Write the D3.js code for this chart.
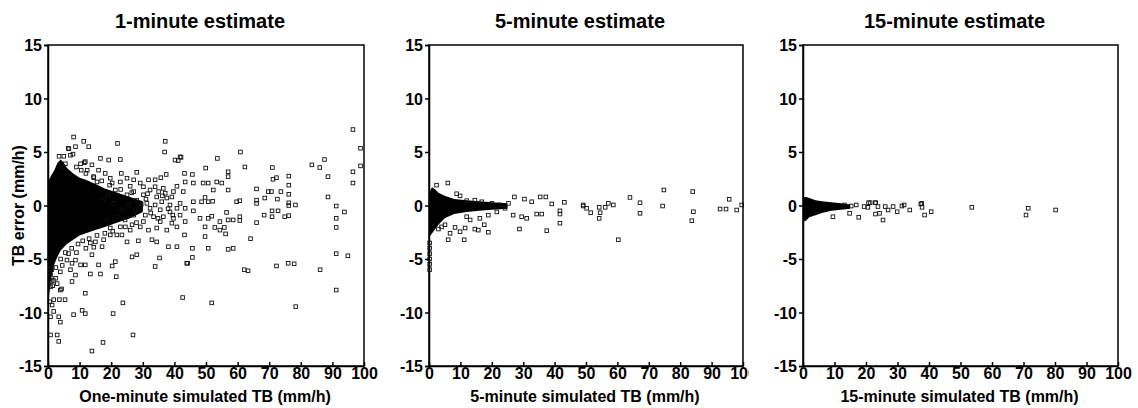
<!DOCTYPE html>
<html>
<head>
<meta charset="utf-8">
<script src="https://cdn.jsdelivr.net/npm/d3@7"></script>
<style>
  body { margin: 0; background: #fff; }
  svg text { font-family: "Liberation Sans", Arial, sans-serif; font-weight: bold; fill: #000; }
</style>
</head>
<body>
<svg width="1138" height="408"></svg>
<script>
// ---- data ----
const titles = ["1-minute estimate", "5-minute estimate", "15-minute estimate"];
const xLabels = ["One-minute simulated TB (mm/h)", "5-minute simulated TB (mm/h)", "15-minute simulated TB (mm/h)"];
const yLabel = "TB error (mm/h)";
const yTicks = [-15, -10, -5, 0, 5, 10, 15];
const xTicks = [0, 10, 20, 30, 40, 50, 60, 70, 80, 90, 100];

// dense (solid black) part of each cloud: upper / lower edge
const core1X  = [0, 0.3, 1, 2, 3, 4, 5, 6, 8, 10, 12, 15, 18, 22, 26, 30];
const core1Hi = [1.5, 2.4, 2.8, 3.3, 4.0, 4.3, 4.0, 3.5, 3.0, 2.6, 2.4, 2.0, 1.6, 1.2, 0.8, 0.4];
const core1Lo = [-5, -8.5, -6.8, -5.5, -4.8, -4.2, -3.9, -3.6, -3.2, -2.8, -2.6, -2.3, -2.0, -1.6, -1.2, -0.6];

const core2X  = [0, 0.5, 1, 2, 3, 5, 8, 12, 16, 20, 25];
const core2Hi = [0.8, 1.5, 1.7, 1.5, 1.2, 0.9, 0.6, 0.5, 0.4, 0.3, 0.2];
const core2Lo = [-2.8, -2.8, -2.6, -2.2, -1.8, -1.2, -0.8, -0.6, -0.5, -0.4, -0.3];

const core3X  = [0, 0.5, 1, 2, 4, 6, 9, 12, 15];
const core3Hi = [0.6, 0.8, 0.8, 0.7, 0.5, 0.4, 0.3, 0.2, 0.1];
const core3Lo = [-1.0, -1.5, -1.4, -1.1, -0.9, -0.7, -0.5, -0.4, -0.3];

// individual squares
const pts1 = [
  [8.1,6.4],[11.3,6.0],[8.7,5.5],[12.9,5.5],[22.0,5.8],[6.6,5.3],[16.6,4.4],[19.2,4.25],[22.9,4.3],
  [11.8,4.1],[13.9,3.8],[18.1,3.0],[23.2,3.0],[28.1,3.1],[31.8,2.4],[33.9,2.4],[35.7,2.6],[37.1,6.0],
  [36.9,5.0],[40.2,4.25],[42.1,4.5],[37.4,2.9],[43.2,3.0],[43.4,2.2],[40.8,1.8],[42.8,1.3],[36.5,1.6],
  [29.2,2.1],[26.0,1.8],[22.9,2.2],[20.3,2.1],[21.3,1.45],[32.3,1.45],[34.4,0.8],[37.6,0.7],[39.2,0.8],
  [41.8,0.2],[40.8,-0.26],[38.6,-0.6],[35.5,-0.4],[31.3,0.2],[28.1,0.5],[29.2,-0.26],[33.4,-1.05],
  [36.5,-1.05],[39.7,-1.2],[40.8,-2.0],[43.2,-2.75],[43.4,-1.5],[37.6,-2.3],[34.4,-2.1],[31.8,-2.3],
  [29.2,-2.0],[26.0,-2.3],[23.4,-2.75],[21.8,-2.75],[19.7,-2.75],[17.6,-3.2],[15.0,-3.4],[17.1,-3.85],
  [13.4,-3.5],[25.0,-3.4],[28.6,-3.3],[32.9,-3.2],[34.4,-3.4],[38.1,-3.85],[40.8,-3.85],[43.9,-5.4],
  [33.9,-5.7],[35.3,-4.9],[28.1,-4.6],[26.6,-4.8],[21.3,-5.25],[20.3,-5.65],[16.0,-5.55],[13.9,-4.6],
  [11.8,-5.55],[10.3,-5.55],[8.7,-5.1],[7.1,-6.0],[8.7,-6.5],[13.4,-6.4],[16.6,-6.4],[21.6,-6.65],
  [7.6,-7.1],[4.3,-7.8],[2.9,-7.3],[1.8,-8.8],[3.6,-8.8],[5.4,-8.8],[11.8,-8.2],[10.8,-9.8],[11.8,-10.1],
  [8.1,-10.2],[3.9,-10.9],[3.4,-10.4],[0.8,-10.4],[1.8,-9.9],[1.3,-9.3],[20.6,-10.1],[23.7,-9.1],
  [42.6,-8.6],[0.8,-12.1],[2.9,-12.1],[3.4,-12.7],[13.9,-13.6],[17.4,-12.8],[26.9,-12.1],
  [96.5,7.1],[98.9,5.35],[98.9,3.7],[96.5,3.15],[96.5,2.1],[60.9,5.0],[53.6,4.4],[62.3,3.6],[49.9,3.5],
  [57.0,3.15],[57.0,2.7],[71.0,3.55],[71.2,2.45],[72.3,2.6],[76.2,2.75],[76.2,1.9],[76.2,1.05],
  [76.2,0.25],[76.2,0],[78.3,0.05],[76.2,-0.95],[74.9,-1.05],[83.5,3.8],[86.0,3.55],[87.5,4.3],
  [88.6,2.7],[88.6,0.8],[91.2,-0.05],[91.2,-1.2],[91.2,-2.05],[91.2,-4.5],[94.9,-4.7],[93.8,-0.6],
  [91.2,-7.9],[86.1,-6.0],[51.8,-9.1],[78.4,-9.45],[66.0,1.55],[69.7,1.3],[70.7,1.3],[73.7,1.3],
  [72.6,0.6],[68.6,0.7],[66.0,0.5],[66.0,0.2],[68.4,-0.9],[70.9,-0.5],[70.9,-1.05],[72.8,-0.5],
  [66.0,-1.6],[64.1,-3.1],[60.7,-1.05],[60.7,-1.4],[58.6,-1.35],[59.7,0.35],[60.7,0.45],[57.0,1.45],
  [55.0,2.1],[53.4,2.2],[52.3,1.45],[50.7,2.1],[49.1,2.1],[46.0,2.1],[45.7,2.9],[49.7,0.75],[50.7,0.35],
  [48.6,0.35],[46.0,0.35],[46.0,-0.5],[48.1,-1.2],[49.7,-2.0],[50.7,-1.2],[52.8,-2.05],[54.4,-2.3],
  [55.8,-2.05],[56.2,-2.65],[54.4,-1.5],[51.8,-1.0],[49.7,-2.9],[50.7,-4.0],[45.7,-4.0],[45.7,-4.85],
  [57.0,-4.1],[58.6,-4.0],[44.2,-5.4],[62.1,-6.0],[63.3,-6.1],[72.3,-5.65],[76.0,-5.4],[77.9,-5.45],
  [57.0,-1.35],[52.1,0.4],[56.5,-0.65],[41.8,4.55],[41.2,4.2],
  [6.4,5.35],[7.1,4.7],[7.9,4.8],[10.3,3.9],[11.5,4.0],[5.5,3.9],[4.5,3.6],
  [0.8,-6.5],[0.8,-7.6],[1.0,-7.1],[1.7,-7.0],[2.4,-6.8],[3.9,-7.9],[1.2,-6.0],[3.9,-6.2],[4.5,-5.6],
  [6.0,-5.1],[7.6,-5.4],
  [25.0,1.0],[27.1,1.3],[30.2,1.0],[25.5,0.05],[23.4,-0.4],[21.8,-1.05],[24.4,-1.35],[27.1,-0.9],
  [30.8,-0.9],[32.3,-0.26],[33.9,0.05],[36.0,0.35],[38.6,0.05],[41.8,-0.9],[43.4,-0.26],[39.2,-1.65],
  [35.5,-1.5],[30.2,-1.5],[26.6,-1.8],[22.9,-2.0],[19.7,-2.1],[18.7,-1.35],[17.6,0.5],[19.2,1.0],
  [20.8,0.2],[33.9,1.75],[37.1,1.15],[39.7,1.3],[30.2,1.75],[25.0,2.55],[27.1,2.4],[19.7,2.55],
  [15.5,2.2],[14.4,2.7],[16.0,3.3],[12.4,3.3],
  // fringe of the dense cloud
  [3.5,4.6],[5.0,4.6],[9.0,3.6],[10.5,3.3],[12.0,3.0],[14.5,2.6],[17.0,2.3],[19.5,1.9],[23.0,1.5],
  [26.5,1.2],[2.5,-5.8],[4.0,-5.0],[5.5,-4.4],[7.5,-4.0],[9.5,-3.6],[11.0,-3.3],[13.0,-3.1],[15.5,-2.8],
  [18.0,-2.6],[20.5,-2.4],[24.5,-2.0],[28.0,-1.6],[1.5,-7.5],[0.6,-9.0],[6.5,-4.5],[9.0,-4.4],
  [12.0,-4.0],[14.5,-3.9],[31.0,0.6],[32.5,-0.7],[34.8,-1.2],[36.2,0.9],[38.0,-0.3],[29.5,0.1],
  [27.5,-0.4],[31.5,1.1],[35.0,1.3],[39.5,-0.9]
];

const pts2 = [
  [2.4,1.9],[6.0,2.1],[8.8,1.1],[9.9,0.9],[27.2,0.8],[30.4,0.6],[35.4,0.8],[37.2,0.8],[32.7,0.35],
  [39.1,0.15],[43.1,0.3],[49.1,-0.05],[41.7,-0.5],[41.7,-0.8],[41.7,-1.65],[35.9,-0.8],[34.3,-0.8],
  [31.1,-1.2],[29.5,-1.05],[26.8,-0.9],[24.2,-0.26],[28.8,-2.2],[37.5,-2.35],[18.9,-2.5],[17.6,-1.8],
  [15.7,-2.3],[14.6,-2.2],[11.5,-2.1],[9.9,-2.45],[11.2,-3.2],[6.1,-3.2],[6.7,-2.6],[8.3,-2.05],
  [5.1,-1.8],[3.0,-2.2],[4.0,-2.0],[13.1,-1.35],[12.0,-1.05],[16.2,-1.2],[18.9,-0.9],[21.6,-0.6],
  [20.0,0.2],[22.6,0.05],[25.3,0.2],[14.6,0.5],[16.8,0.35],[12.0,0.45],
  [49.1,0.05],[50.2,-0.26],[51.5,-0.67],[54.2,-0.17],[54.5,-0.67],[56.1,-0.17],[57.1,0.2],[58.7,0.05],
  [54.2,-1.2],[60.3,-3.2],[64.0,0.75],[67.2,0.26],[67.2,-0.73],[74.4,-0.05],[74.8,1.45],[84.0,1.3],
  [84.2,-0.58],[83.7,-1.42],[92.7,-0.33],[94.6,-0.33],[95.6,0.58],[98.0,-0.42],[99.6,0.05],
  [0.2,-3.5],[0.2,-4.0],[0.2,-4.5],[0.2,-5.0],[0.2,-5.5],[0.2,-6.0]
];

const pts3 = [
  [9.5,-1.05],[14.8,-0.73],[15.3,-0.05],[17.7,-1.1],[19.4,-0.1],[20.8,0.26],[20.6,-0.17],[23.1,0.26],
  [23.8,-0.1],[23.0,-0.8],[24.3,-0.73],[25.4,-1.36],[26.1,-0.1],[27.0,-0.42],[28.6,-0.1],[29.9,-0.58],
  [31.4,-0.05],[32.1,0.05],[33.9,-0.42],[37.4,0.14],[37.8,-0.17],[38.6,-0.89],[40.7,-0.58],[13.2,0.05],
  [16.9,0.05],[21.3,0.26],[22.9,0.26],[37.7,0.2],
  [53.6,-0.17],[71.5,-0.26],[70.8,-0.89],[80.2,-0.42]
];

// ---- layout ----
const plotTop = 45, plotBottom = 366;
const panels = [
  { left: 48,  right: 364,  clip: [0, 379],   core: [core1X, core1Hi, core1Lo], pts: pts1 },
  { left: 429, right: 743,  clip: [380, 749], core: [core2X, core2Hi, core2Lo], pts: pts2 },
  { left: 803, right: 1118, clip: null,       core: [core3X, core3Hi, core3Lo], pts: pts3 }
];

const svg = d3.select("svg");
const defs = svg.append("defs");

const y = d3.scaleLinear().domain([-15, 15]).range([plotBottom, plotTop]);

panels.forEach((p, i) => {
  const x = d3.scaleLinear().domain([0, 100]).range([p.left, p.right]);

  const g = svg.append("g");
  if (p.clip) {
    defs.append("clipPath").attr("id", "clip" + i)
      .append("rect")
      .attr("x", p.clip[0]).attr("y", 0)
      .attr("width", p.clip[1] - p.clip[0]).attr("height", 408);
    g.attr("clip-path", `url(#clip${i})`);
  }

  // title
  g.append("text")
    .attr("x", (p.left + p.right) / 2 - 6)
    .attr("y", 28)
    .attr("text-anchor", "middle")
    .attr("font-size", 20)
    .text(titles[i]);

  // dense cloud
  const [cx, hi, lo] = p.core;
  const coreData = cx.map((v, k) => ({ x: v, hi: hi[k], lo: lo[k] }));
  const area = d3.area()
    .x(d => x(d.x))
    .y0(d => y(d.lo))
    .y1(d => y(d.hi));
  g.append("path")
    .datum(coreData)
    .attr("d", area)
    .attr("fill", "#000");

  // squares
  const s = 3.6;
  g.append("g")
    .selectAll("rect")
    .data(p.pts)
    .join("rect")
    .attr("x", d => x(d[0]) - s / 2)
    .attr("y", d => y(d[1]) - s / 2)
    .attr("width", s)
    .attr("height", s)
    .attr("fill", "none")
    .attr("stroke", "#111")
    .attr("stroke-width", 0.9);

  // axes
  const yAxis = g.append("g")
    .attr("transform", `translate(${p.left},0)`)
    .call(d3.axisLeft(y).tickValues(yTicks).tickSize(4).tickPadding(2).tickFormat(d => String(d)));
  yAxis.selectAll("text").attr("font-size", 16).attr("dy", "0.36em");

  const xAxis = g.append("g")
    .attr("transform", `translate(0,${plotBottom})`)
    .call(d3.axisBottom(x).tickValues(xTicks).tickSizeInner(-4).tickSizeOuter(0).tickPadding(2).tickFormat(d => String(d)));
  xAxis.selectAll("text").attr("font-size", 16);

  g.selectAll(".domain").attr("stroke", "#000").attr("stroke-width", 1.5);
  g.selectAll(".tick line").attr("stroke", "#000").attr("stroke-width", 1.5);

  // frame
  g.append("rect")
    .attr("x", p.left).attr("y", plotTop)
    .attr("width", p.right - p.left).attr("height", plotBottom - plotTop)
    .attr("fill", "none")
    .attr("stroke", "#000")
    .attr("stroke-width", 1.5);

  // x label
  g.append("text")
    .attr("x", (p.left + p.right) / 2 - 1)
    .attr("y", 402)
    .attr("text-anchor", "middle")
    .attr("font-size", 16)
    .text(xLabels[i]);
});

// y label (first panel only)
svg.append("text")
  .attr("transform", `translate(24,${(plotTop + plotBottom) / 2}) rotate(-90)`)
  .attr("text-anchor", "middle")
  .attr("font-size", 16)
  .text(yLabel);
</script>
</body>
</html>
